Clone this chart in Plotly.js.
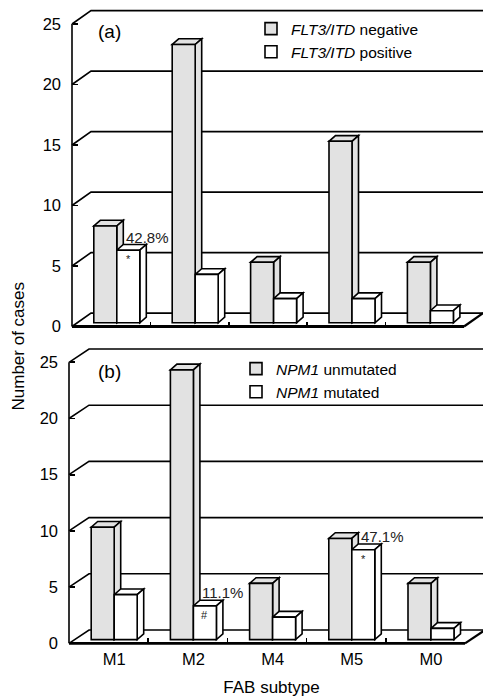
<!DOCTYPE html>
<html><head><meta charset="utf-8">
<script src="https://cdn.plot.ly/plotly-3.0.1.min.js"></script>
<style>html,body{margin:0;padding:0;background:#fff}#chart{width:483px;height:697px}</style>
</head><body><div id="chart"></div>
<script>
// ---------- data ----------
const categories = ['M1', 'M2', 'M4', 'M5', 'M0'];
const flt3Negative = [8, 23, 5, 15, 5];
const flt3Positive = [6, 4, 2, 2, 1];
const npm1Unmutated = [10, 24, 5, 9, 5];
const npm1Mutated = [4, 3, 2, 8, 1];
const yTickValues = [0, 5, 10, 15, 20, 25];
const panelLabels = ['(a)', '(b)'];
const namesA = ['<i>FLT3/ITD</i> negative', '<i>FLT3/ITD</i> positive'];
const namesB = ['<i>NPM1</i> unmutated', '<i>NPM1</i> mutated'];
const noteCatsA = ['M1'];
const notePctA = ['42.8%'];
const noteMarkA = ['*'];
const noteCatsB = ['M2', 'M5'];
const notePctB = ['11.1%', '47.1%'];
const noteMarkB = ['#', '*'];

// ---------- geometry (pixels) ----------
const W = 483, H = 697;
const FONT = 'Arial, "Liberation Sans", Helvetica, sans-serif';
const geo = [
  {left: 72, right: 464, y0: 326.5, yTop: 24, dx: 19, dy: 13.4, domTop: 3, domBot: 333, domLeft: 62},
  {left: 69, right: 465, y0: 643.3, yTop: 362.3, dx: 20, dy: 13.3, domTop: 340, domBot: 650, domLeft: 60}
];
const barW = 23, barOffX = 5.6, barOffY = 3.7, barDX = 6.5, barDY = 5.7;
const LW = 1.6;
const GREY = '#e2e2e2';

const panels = [
  {series: [flt3Negative, flt3Positive], names: namesA, notes: [noteCatsA, notePctA, noteMarkA]},
  {series: [npm1Unmutated, npm1Mutated], names: namesB, notes: [noteCatsB, notePctB, noteMarkB]}
];

const traces = [], shapes = [], annotations = [];
const layout = {
  width: W, height: H, margin: {l: 0, r: 0, t: 0, b: 0},
  paper_bgcolor: '#fff', plot_bgcolor: 'rgba(0,0,0,0)',
  font: {family: FONT, color: '#000'},
  barmode: 'overlay', showlegend: true, hovermode: false
};

function path(pts, close) {
  return pts.map((p, k) => (k ? 'L' : 'M') + p[0] + ',' + p[1]).join(' ') + (close ? ' Z' : '');
}

panels.forEach((pn, p) => {
  const g = geo[p];
  const pxX = (g.right - g.left) / categories.length;
  const pxY = (g.y0 - g.yTop) / 25;
  const xr = [-0.5 - (g.left - g.domLeft) / pxX, categories.length - 0.5 + (W - g.right) / pxX];
  const yr = [-(g.domBot - g.y0) / pxY, 25 + (g.yTop - g.domTop) / pxY];
  const sfx = p === 0 ? '' : '2';
  const xref = 'x' + sfx, yref = 'y' + sfx;
  const ddx = g.dx / pxX, ddy = g.dy / pxY;
  const wU = barW / pxX, offU = barOffX / pxX, baseU = barOffY / pxY;
  const bdx = barDX / pxX, bdy = barDY / pxY;
  const xL = -0.5, xR = categories.length - 0.5;
  const idx = categories.map((c, i) => i);

  layout['xaxis' + sfx] = {
    domain: [g.domLeft / W, 1], range: xr, anchor: 'free', position: 1 - g.y0 / H,
    showgrid: false, zeroline: false, showline: false, fixedrange: true,
    tickmode: 'array', tickvals: idx.map(i => i + offU), ticktext: categories,
    ticks: '', showticklabels: p === 1, tickfont: {size: 16.5, family: FONT},
    minor: {tickmode: 'array', tickvals: idx.slice(1).map(i => i - 0.5), ticks: 'inside', ticklen: 5, tickwidth: LW, tickcolor: '#000', showgrid: false},
    ticklabelstandoff: 4
  };
  if (p === 1) layout['xaxis' + sfx].title = {text: 'FAB subtype', font: {size: 17, family: FONT}};
  layout['yaxis' + sfx] = {
    domain: [1 - g.domBot / H, 1 - g.domTop / H], range: yr, anchor: 'free', position: g.left / W,
    showgrid: false, zeroline: false, showline: false, fixedrange: true,
    tickmode: 'array', tickvals: yTickValues, ticks: 'inside', ticklen: 5, tickwidth: LW, tickcolor: '#000',
    tickfont: {size: 16.5, family: FONT}, ticklabelstandoff: 11
  };

  // back wall grid lines + left diagonals
  yTickValues.forEach(v => {
    shapes.push({type: 'path', xref, yref, layer: 'below', line: {color: '#000', width: LW},
      path: path([[xL, v], [xL + ddx, v + ddy], [xr[1] + 1, v + ddy]])});
  });
  // front vertical axis
  shapes.push({type: 'path', xref, yref, layer: 'below', line: {color: '#000', width: LW},
    path: path([[xL, 0], [xL, 25]])});
  // floor front edge + right diagonal
  shapes.push({type: 'path', xref, yref, layer: 'below', line: {color: '#000', width: 2.2},
    path: path([[xR + ddx, ddy], [xR, 0]])});
  shapes.push({type: 'path', xref, yref, layer: 'below', line: {color: '#000', width: 2.8},
    path: path([[xL, 0], [xR, 0]])});

  // bar tops and sides
  idx.forEach(i => {
    pn.series.forEach((vals, s) => {
      const v = vals[i];
      const l = i + offU - wU + s * wU, r = l + wU, b = baseU, t = v + baseU;
      const fill = s === 0 ? GREY : '#fff';
      shapes.push({type: 'path', xref, yref, layer: 'below', fillcolor: fill, line: {color: '#000', width: LW},
        path: path([[l, t], [r, t], [r + bdx, t + bdy], [l + bdx, t + bdy]], true)});
      shapes.push({type: 'path', xref, yref, layer: 'below', fillcolor: fill, line: {color: '#000', width: LW},
        path: path([[r, b], [r, t], [r + bdx, t + bdy], [r + bdx, b + bdy]], true)});
    });
  });

  // bar front faces
  pn.series.forEach((vals, s) => {
    traces.push({
      type: 'bar', xaxis: xref, yaxis: yref,
      x: idx.map(i => i + offU - wU / 2 + s * wU), y: vals, base: vals.map(() => baseU),
      width: vals.map(() => wU), name: pn.names[s],
      marker: {color: s === 0 ? GREY : '#fff', line: {color: '#000', width: LW}},
      legend: p === 0 ? 'legend' : 'legend2', legendgroup: 'g' + p + s, hoverinfo: 'skip'
    });
  });

  // notes
  const [cats, pcts, marks] = pn.notes;
  cats.forEach((c, k) => {
    const i = categories.indexOf(c);
    const v = pn.series[1][i];
    const l = i + offU;
    annotations.push({xref, yref, x: l, y: v + baseU, text: pcts[k], showarrow: false,
      xanchor: 'left', yanchor: 'middle', xshift: 7, yshift: 13, font: {size: 15, color: '#222', family: FONT}});
    annotations.push({xref, yref, x: l + wU / 2, y: v + baseU, text: marks[k], showarrow: false,
      xanchor: 'center', yanchor: 'middle', yshift: -9, font: {size: 11, color: '#222', family: FONT}});
  });

  annotations.push({xref: 'paper', yref: 'paper', x: 96 / W, y: 1 - (p === 0 ? 32 : 371.7) / H,
    text: panelLabels[p], showarrow: false, xanchor: 'left', yanchor: 'middle', font: {size: 19, family: FONT}});
});

annotations.push({xref: 'paper', yref: 'paper', x: 18 / W, y: 1 - 346.5 / H, text: 'Number of cases',
  textangle: -90, showarrow: false, xanchor: 'center', yanchor: 'middle', font: {size: 17, family: FONT}});

layout.shapes = shapes;
layout.annotations = annotations;
layout.legend = {x: 251 / W, y: 1 - 12 / H, xanchor: 'left', yanchor: 'top', bgcolor: 'rgba(0,0,0,0)',
  font: {size: 15.5, family: FONT}, tracegroupgap: 5.7, traceorder: 'normal'};
layout.legend2 = {x: 236 / W, y: 1 - 352 / H, xanchor: 'left', yanchor: 'top', bgcolor: 'rgba(0,0,0,0)',
  font: {size: 15.5, family: FONT}, tracegroupgap: 5, traceorder: 'normal'};

Plotly.newPlot('chart', traces, layout, {staticPlot: true, displayModeBar: false});
</script>
</body></html>
